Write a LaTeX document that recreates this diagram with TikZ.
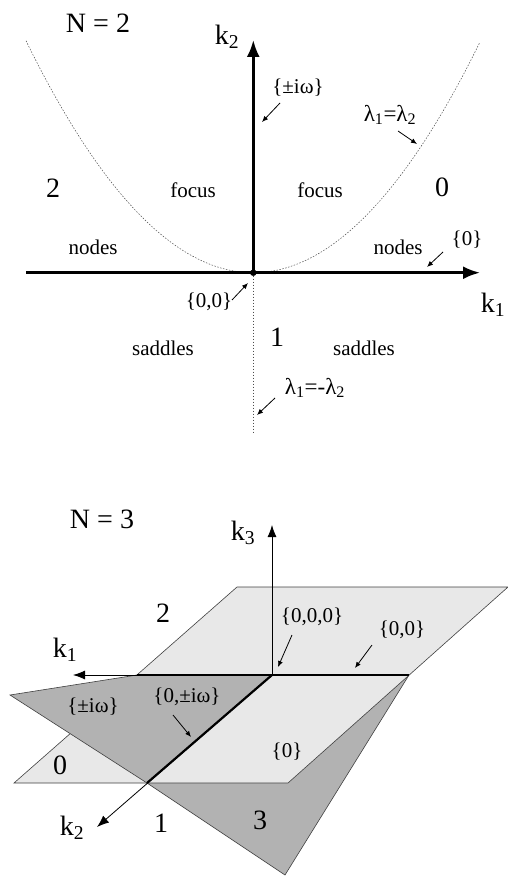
\documentclass[tikz,border=0pt]{standalone}
\usepackage{fontspec}
\setmainfont{Liberation Serif}
\usetikzlibrary{arrows.meta}

\begin{document}
\begin{tikzpicture}[x=1pt, y=-1pt,
    lbl/.style={font=\fontsize{21}{23}\selectfont},
    num/.style={font=\fontsize{28}{30}\selectfont},
    setlbl/.style={font=\fontsize{21}{23}\selectfont},
    axlbl/.style={font=\fontsize{28}{30}\selectfont},
    ptr/.style={-{Latex[length=6pt,width=5pt]}, line width=0.8pt},
    bigaxis/.style={line width=2.6pt, -{Latex[length=17pt,width=13pt]}},
    thinaxis/.style={line width=0.8pt, -{Latex[length=12pt,width=9pt]}},
    guide/.style={black!70, line width=0.5pt, dash pattern=on 1.5pt off 1.5pt},
    plane/.style={fill=black!9, draw=black!75, line width=0.6pt},
    tilted/.style={fill=black!30, draw=black!75, line width=0.6pt}]
  \useasboundingbox (0,0) rectangle (508,880);

  % N = 2
  \coordinate (o) at (253.3,272.7);
  \draw[guide, domain=26:480, samples=80, smooth] plot (\x, {272.7-(0.067*(\x-253.3))^2});
  \draw[guide] (o) -- (253.3,432);
  \draw[bigaxis] (26,272.7) -- (480,272.7);
  \draw[bigaxis] (o) -- (253.3,40);
  \filldraw (o) circle (3pt);

  \node[num] (titletwo) at (98,23) {N = 2};
  \node[axlbl] (ktwo) at (227,37) {k\textsubscript{2}};
  \node[axlbl] (kone) at (493,305) {k\textsubscript{1}};
  \node[setlbl] (imtwo) at (298,88) {\{±iω\}};
  \node[lbl, font=\fontsize{23}{25}\selectfont] (eqlam) at (390,115) {λ\textsubscript{1}=λ\textsubscript{2}};
  \node[lbl, font=\fontsize{23}{25}\selectfont] (neglam) at (315,388) {λ\textsubscript{1}=-λ\textsubscript{2}};
  \node[num] (rtwo) at (53,188) {2};
  \node[num] (rzero) at (442,187) {0};
  \node[num] (rone) at (277,337) {1};
  \node[lbl] (focl) at (193,190) {focus};
  \node[lbl] (focr) at (320,190) {focus};
  \node[lbl] (nodl) at (93,247) {nodes};
  \node[lbl] (nodr) at (398,247) {nodes};
  \node[lbl] (sadl) at (163,348) {saddles};
  \node[lbl] (sadr) at (364,348) {saddles};
  \node[setlbl] (zerotwo) at (467,240) {\{0\}};
  \node[setlbl] (origtwo) at (209,302) {\{0,0\}};

  \draw[ptr] (280,103) -- (262,122);
  \draw[ptr] (398,131) -- (417,144);
  \draw[ptr] (443,252) -- (427,267);
  \draw[ptr] (232,300) -- (248,283);
  \draw[ptr] (275,398) -- (257,415);

  % N = 3
  \coordinate (p) at (272,675);
  \draw[tilted] (147,783) -- (285,875) -- (409,675) -- cycle;
  \draw[plane] (14,783) -- (288,783) -- (508,587) -- (237,587) -- cycle;
  \draw[tilted] (147,783) -- (10,695) -- (137,675) -- (p) -- cycle;
  \draw[thinaxis] (p) -- (272,525);
  \draw[thinaxis] (p) -- (73,675);
  \draw[thinaxis] (p) -- (97,827);
  \draw[line width=2.2pt] (137,675) -- (409,675);
  \draw[line width=2.2pt] (p) -- (147,783);

  \node[num] (titlethree) at (102,519) {N = 3};
  \node[axlbl] (kthree) at (243,533) {k\textsubscript{3}};
  \node[axlbl] (konep) at (65,650) {k\textsubscript{1}};
  \node[axlbl] (ktwop) at (72,828) {k\textsubscript{2}};
  \node[num] (sthree) at (163,613) {2};
  \node[num] (szero) at (60,765) {0};
  \node[num] (sone) at (161,823) {1};
  \node[num] (s3) at (260,820) {3};
  \node[setlbl] (origthree) at (312,617) {\{0,0,0\}};
  \node[setlbl] (linethree) at (402,630) {\{0,0\}};
  \node[setlbl] (imthree) at (93,707) {\{±iω\}};
  \node[setlbl] (zimthree) at (187,697) {\{0,±iω\}};
  \node[setlbl] (zerothree) at (287,752) {\{0\}};

  \draw[ptr] (292,635) -- (278,667);
  \draw[ptr] (372,645) -- (355,668);
  \draw[ptr] (173,715) -- (191,737);
\end{tikzpicture}
\end{document}
